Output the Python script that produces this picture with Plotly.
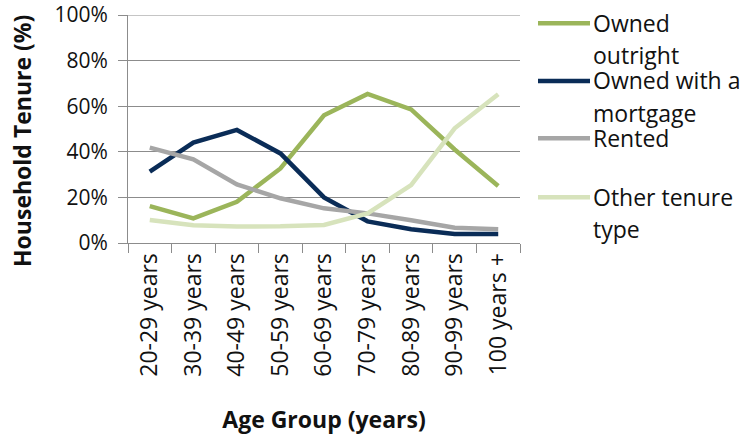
import plotly.graph_objects as go

# Household tenure share by age group of household reference person
age_groups = ["20-29 years", "30-39 years", "40-49 years", "50-59 years",
              "60-69 years", "70-79 years", "80-89 years", "90-99 years",
              "100 years +"]
owned_outright = [16.2, 10.8, 18.1, 32.7, 56.0, 65.4, 58.6, 41.0, 25.0]
owned_mortgage = [31.3, 44.0, 49.6, 39.3, 20.0, 9.5, 6.0, 3.9, 3.9]
rented = [41.8, 36.7, 25.7, 19.6, 15.2, 13.0, 10.0, 6.7, 6.0]
other_tenure = [10.1, 7.8, 7.2, 7.3, 7.9, 13.0, 25.4, 50.3, 65.2]

series_names = ["Owned<br>outright", "Owned with a<br>mortgage", "Rented",
                "Other tenure<br>type"]
series_values = [owned_outright, owned_mortgage, rented, other_tenure]
series_colors = ["#9BB55A", "#0A2C57", "#A6A6A6", "#D7E3BC"]

FONT = "Open Sans"
FS = 23
GRID = "#8C8C8C"

fig = go.Figure()
for name, vals, col in zip(series_names, series_values, series_colors):
    fig.add_trace(go.Scatter(
        x=age_groups, y=vals, mode="lines", name=name.replace("<br>", " "),
        line=dict(color=col, width=4.5), showlegend=False,
    ))

# Hand-built legend on the right: a short line plus wrapped label per series
L_W, L_H = 392.0, 228.0          # plot area size in px
def px_x(p):
    return (p - 128) / L_W
def px_y(p):
    return (243 - p) / L_H

legend_rows = [23.3, 81, 138.3, 197.3]
LINE_GAP = 32
for name, col, ly in zip(series_names, series_colors, legend_rows):
    fig.add_shape(type="line", xref="paper", yref="paper",
                  x0=px_x(538), x1=px_x(590), y0=px_y(ly), y1=px_y(ly),
                  line=dict(color=col, width=4.5))
    for i, part in enumerate(name.split("<br>")):
        fig.add_annotation(xref="paper", yref="paper", x=px_x(591),
                           y=px_y(ly - 0.5 + i * LINE_GAP),
                           xanchor="left", yanchor="middle", align="left",
                           text=part, showarrow=False,
                           font=dict(family=FONT, size=FS, color="#111111"))

# Vertical y-axis title
fig.add_annotation(xref="paper", yref="paper", x=px_x(22), y=px_y(141),
                   xanchor="center", yanchor="middle", textangle=-90,
                   text="<b>Household Tenure (%)</b>", showarrow=False,
                   font=dict(family=FONT, size=FS, color="#111111"))

# Top gridline at 100%
fig.add_shape(type="line", xref="paper", yref="y", x0=0, x1=1, y0=100, y1=100,
              line=dict(color=GRID, width=1), layer="below")

fig.update_layout(
    width=750, height=437,
    margin=dict(l=128, r=230, t=15, b=194, autoexpand=False),
    paper_bgcolor="white", plot_bgcolor="white",
    font=dict(family=FONT, size=FS, color="#111111"),
)
fig.update_xaxes(
    type="category", tickangle=-90, tickson="boundaries", automargin=False,
    ticks="outside", ticklen=9, tickcolor=GRID, tickwidth=1,
    showline=True, linecolor=GRID, linewidth=1, showgrid=False,
    range=[-0.5, 8.5], ticklabeloverflow="allow",
    title=dict(text="<b>Age Group (years)</b>", standoff=36,
               font=dict(family=FONT, size=FS)),
)
fig.update_yaxes(
    range=[0, 100], dtick=20, ticksuffix="%", automargin=False,
    ticks="outside", ticklen=9, tickcolor=GRID, tickwidth=1,
    showline=True, linecolor=GRID, linewidth=1,
    showgrid=True, gridcolor=GRID, gridwidth=1, zeroline=False,
    ticklabelstandoff=6, ticklabeloverflow="allow",
    tickfont=dict(family=FONT, size=21),
)

fig.write_html("out.html")
